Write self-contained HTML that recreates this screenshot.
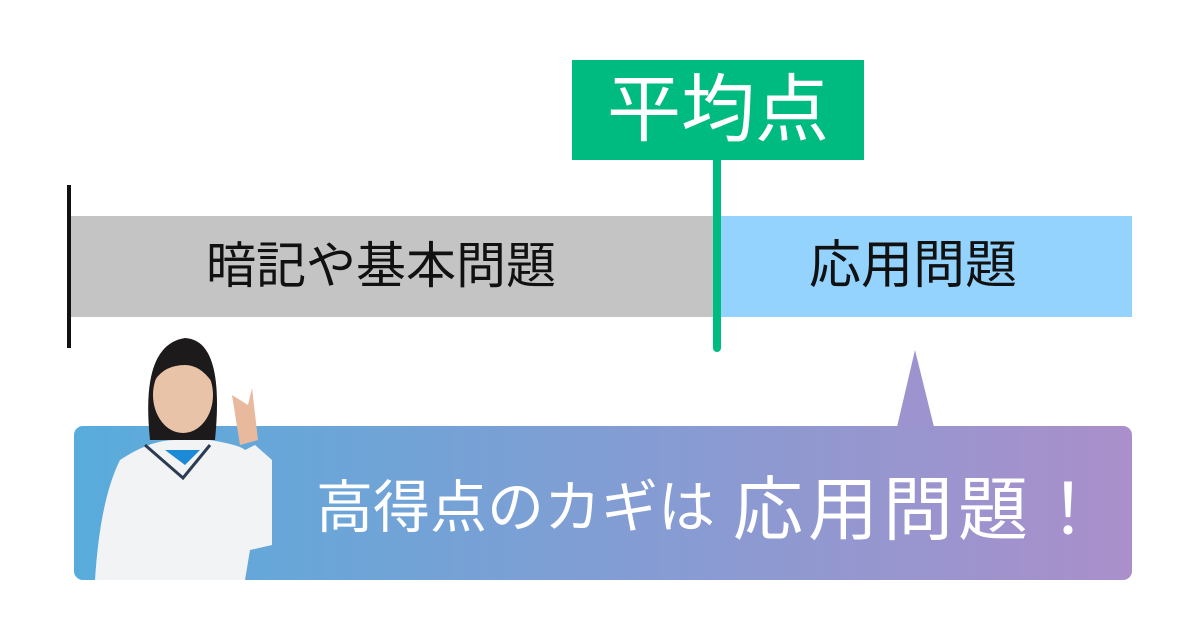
<!DOCTYPE html>
<html><head><meta charset="utf-8"><style>
body{margin:0;width:1200px;height:640px;background:#fff;position:relative;overflow:hidden;font-family:"Liberation Sans","Noto Sans CJK JP",sans-serif}
div{position:absolute}
</style></head><body>
<div style="left:67px;top:185px;width:4px;height:163px;background:#111"></div>
<div style="left:71px;top:216px;width:646px;height:101px;background:#c4c4c4"></div>
<div style="left:717px;top:216px;width:415px;height:101px;background:#93d3fd"></div>
<div style="left:56px;top:216px;width:650px;height:101px;line-height:101px;text-align:center;font-size:50px;color:#111;white-space:nowrap">暗記や基本問題</div>
<div style="left:700px;top:216px;width:426px;height:101px;line-height:101px;text-align:center;font-size:52px;color:#111;white-space:nowrap">応用問題</div>
<div style="left:572px;top:60px;width:292px;height:100px;background:#00bb7f;color:#fff;font-size:74px;line-height:100px;text-align:center;white-space:nowrap">平均点</div>
<div style="left:713px;top:158px;width:8px;height:194px;background:#00bb7f;border-radius:0 0 4px 4px"></div>
<svg style="position:absolute;left:0;top:0" width="1200" height="640">
<defs><linearGradient id="g" x1="0" x2="1"><stop offset="0" stop-color="#58acdc"/><stop offset="1" stop-color="#aa8fcb"/></linearGradient></defs>
<rect x="74" y="426" width="1058" height="154" rx="9" fill="url(#g)"/>
<polygon points="915,350 897,427 934,427" fill="#9d93cf"/>
<path d="M150,440 Q140,345 185,338 Q225,340 215,440 Z" fill="#1d1a1c"/>
<ellipse cx="183" cy="395" rx="30" ry="38" fill="#e9c3a8"/>
<path d="M155,380 Q165,350 185,350 Q210,352 212,382 Q200,365 185,365 Q165,365 155,380Z" fill="#1d1a1c"/>
<path d="M240,445 L232,395 L248,405 L252,388 L258,440 Z" fill="#e8b99d"/>
<path d="M120,460 Q150,440 175,440 L210,440 Q240,445 245,450 L255,445 L272,460 L272,545 L250,550 L245,580 L95,580 Q100,500 120,460Z" fill="#f2f3f5"/>
<path d="M145,445 L183,478 L210,445" fill="none" stroke="#2b3c52" stroke-width="3"/>
<path d="M165,450 L200,450 L185,465 Z" fill="#1d8ad8"/>
<text x="316" y="527" fill="#fff" font-size="57" font-family="Liberation Sans,Noto Sans CJK JP,sans-serif">高得点のカギは</text>
<text x="733" y="534" fill="#fff" font-size="70" letter-spacing="5" font-family="Liberation Sans,Noto Sans CJK JP,sans-serif">応用問題！</text>
</svg>
</body></html>
